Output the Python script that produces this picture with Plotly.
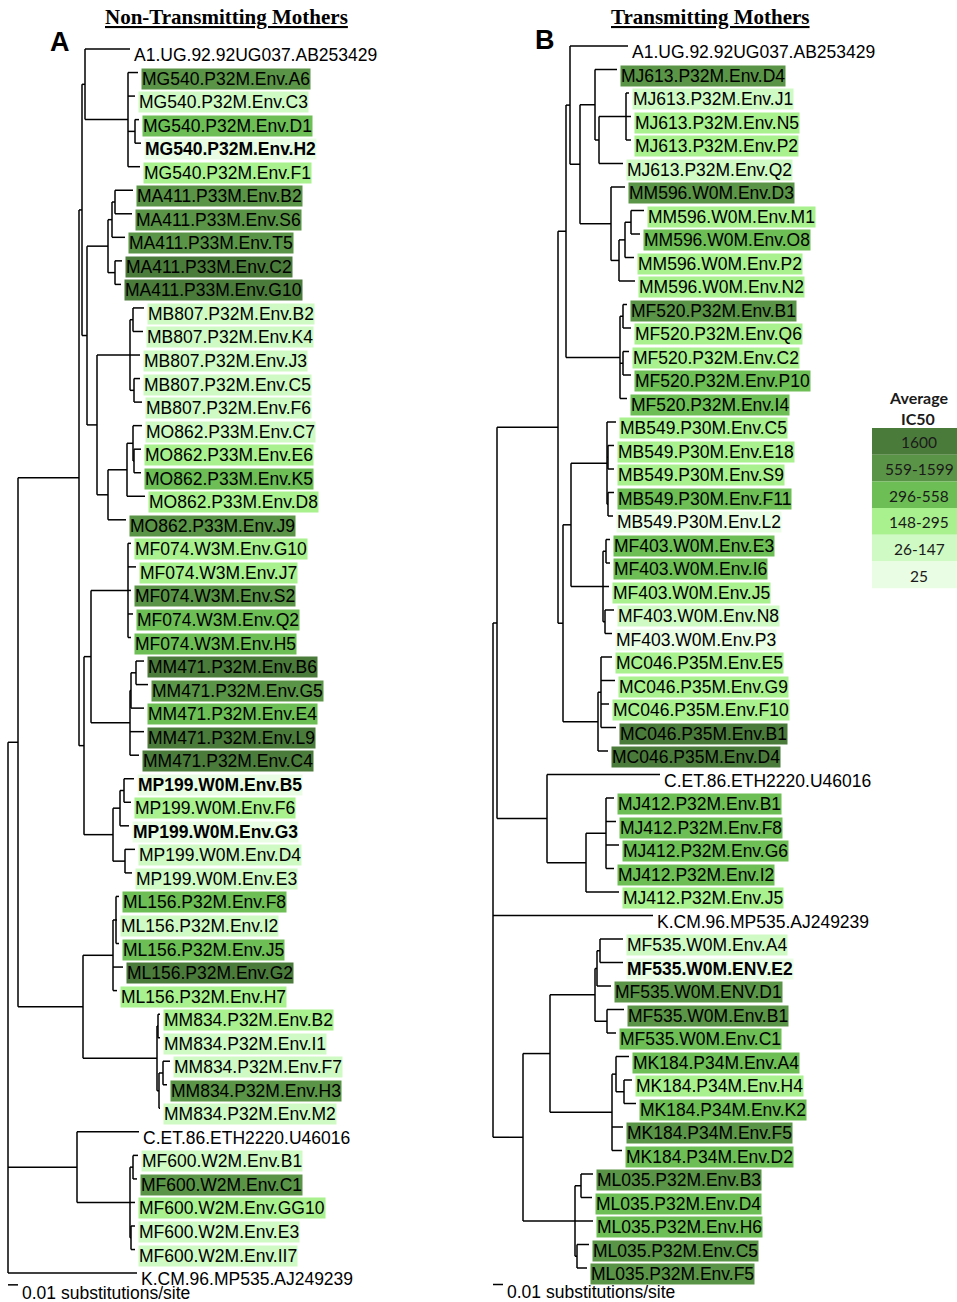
import plotly.graph_objects as go

# ---------------- data ----------------
TITLE_A = "Non-Transmitting Mothers"
TITLE_B = "Transmitting Mothers"
PANEL_A = "A"
PANEL_B = "B"
SCALE_LEN = 0.01
SCALE_TEXT = "0.01 substitutions/site"

IC50_BINS = ["1600", "559-1599", "296-558", "148-295", "26-147", "25"]
# colour for category 6 (1600) ... 1 (25); 0 = reference, no box
IC50_COLORS = {6: "#4b7b3a", 5: "#5a9446", 4: "#6cbe55", 3: "#a8f18e", 2: "#cffac4", 1: "#e9fde4"}
BIN_CATS = [6, 5, 4, 3, 2, 1]

newick_A = """
(((((A1.UG.92.92UG037.AB253429:0.045,
(MG540.P32M.Env.A6:0.010,MG540.P32M.Env.C3:0.007,(MG540.P32M.Env.D1:0.004,MG540.P32M.Env.H2:0.006):0.007,MG540.P32M.Env.F1:0.012):0.043
):0.003,
((((MA411.P33M.Env.B2:0.018,MA411.P33M.Env.S6:0.017):0.003,MA411.P33M.Env.T5:0.013):0.004,(MA411.P33M.Env.C2:0.007,MA411.P33M.Env.G10:0.006):0.007):0.021,
(((MB807.P32M.Env.B2:0.011,MB807.P32M.Env.K4:0.010):0.003,MB807.P32M.Env.J3:0.010,(MB807.P32M.Env.C5:0.006,MB807.P32M.Env.F6:0.008):0.004):0.033,
(((MO862.P33M.Env.C7:0.009,(MO862.P33M.Env.E6:0.007,MO862.P33M.Env.K5:0.007):0.001):0.006,MO862.P33M.Env.D8:0.018):0.019,MO862.P33M.Env.J9:0.018):0.011
):0.010
):0.005
):0.003,
(((MF074.W3M.Env.G10:0.003,MF074.W3M.Env.J7:0.008,MF074.W3M.Env.S2:0.003,MF074.W3M.Env.Q2:0.005,MF074.W3M.Env.H5:0.003):0.037,
(((MM471.P32M.Env.B6:0.008,MM471.P32M.Env.G5:0.012):0.005,MM471.P32M.Env.E4:0.013):0.001,MM471.P32M.Env.L9:0.014,MM471.P32M.Env.C4:0.009):0.039
):0.007,
(((MP199.W0M.Env.B5:0.010,MP199.W0M.Env.F6:0.007):0.004,MP199.W0M.Env.G3:0.009):0.007,(MP199.W0M.Env.D4:0.010,MP199.W0M.Env.E3:0.007):0.012):0.029
):0.005
):0.061,
(((ML156.P32M.Env.F8:0.003,ML156.P32M.Env.I2:0.001,ML156.P32M.Env.J5:0.003):0.003,ML156.P32M.Env.G2:0.010,ML156.P32M.Env.H7:0.004):0.030,
((MM834.P32M.Env.B2:0.002,MM834.P32M.Env.I1:0.002):0.001,((MM834.P32M.Env.F7:0.007,MM834.P32M.Env.H3:0.004):0.004,MM834.P32M.Env.M2:0.001):0.002):0.074
):0.065
):0.010,
(C.ET.86.ETH2220.U46016:0.062,((MF600.W2M.Env.B1:0.005,MF600.W2M.Env.C1:0.004):0.003,MF600.W2M.Env.GG10:0.005,(MF600.W2M.Env.E3:0.004,MF600.W2M.Env.II7:0.004):0.001):0.053):0.069,
K.CM.96.MP535.AJ249239:0.129);
"""

newick_B = """
(((((A1.UG.92.92UG037.AB253429:0.058,
((MJ613.P32M.Env.D4:0.022,((MJ613.P32M.Env.J1:0.003,MJ613.P32M.Env.N5:0.005,MJ613.P32M.Env.P2:0.005):0.027,MJ613.P32M.Env.Q2:0.024):0.004):0.015,
(MM596.W0M.Env.D3:0.014,(((MM596.W0M.Env.M1:0.013,MM596.W0M.Env.O8:0.009):0.006,MM596.W0M.Env.P2:0.009):0.006,MM596.W0M.Env.N2:0.016):0.008):0.031
):0.010
):0.004,
((MF520.P32M.Env.B1:0.004,MF520.P32M.Env.Q6:0.008):0.003,(MF520.P32M.Env.C2:0.006,MF520.P32M.Env.P10:0.008):0.003,MF520.P32M.Env.I4:0.007):0.054
):0.008,
(((MB549.P30M.Env.C5:0.009,(MB549.P30M.Env.E18:0.006,MB549.P30M.Env.S9:0.006):0.001,(MB549.P30M.Env.F11:0.006,MB549.P30M.Env.L2:0.005):0.001):0.036,
((MF403.W0M.Env.E3:0.004,MF403.W0M.Env.I6:0.004):0.003,MF403.W0M.Env.J5:0.006,(MF403.W0M.Env.N8:0.009,MF403.W0M.Env.P3:0.007):0.002):0.032
):0.008,
((MC046.P35M.Env.E5:0.011,MC046.P35M.Env.G9:0.014,MC046.P35M.Env.F10:0.008,MC046.P35M.Env.B1:0.015):0.003,MC046.P35M.Env.D4:0.010):0.035
):0.005
):0.061,
(C.ET.86.ETH2220.U46016:0.113,((MJ412.P32M.Env.B1:0.008,MJ412.P32M.Env.F8:0.010,MJ412.P32M.Env.G6:0.013,MJ412.P32M.Env.I2:0.008):0.020,MJ412.P32M.Env.J5:0.033):0.039):0.050
):0.004,
K.CM.96.MP535.AJ249239:0.160,
(((((MF535.W0M.Env.A4:0.023,MF535.W0M.ENV.E2:0.023):0.003,MF535.W0M.ENV.D1:0.014):0.002,(MF535.W0M.Env.B1:0.017,MF535.W0M.Env.C1:0.009):0.012):0.045,
((MK184.P34M.Env.A4:0.013,(MK184.P34M.Env.H4:0.008,MK184.P34M.Env.K2:0.012):0.008):0.004,MK184.P34M.Env.F5:0.011,MK184.P34M.Env.D2:0.010):0.062
):0.027,
((ML035.P32M.Env.B3:0.012,ML035.P32M.Env.D4:0.011):0.006,ML035.P32M.Env.H6:0.018,(ML035.P32M.Env.C5:0.012,ML035.P32M.Env.F5:0.010):0.002):0.052
):0.030);
"""

# IC50 category of each leaf, top to bottom (0 = reference strain)
ic50_A = [0,
          5, 2, 4, 1, 3,
          5, 5, 5, 6, 6,
          2, 2, 2, 2, 2,
          2, 3, 4, 3, 5,
          3, 3, 5, 4, 4,
          6, 5, 4, 6, 6,
          1, 3, 1, 2, 2,
          4, 2, 4, 6, 3,
          3, 2, 2, 5, 2,
          0,
          2, 5, 3, 2, 2,
          0]
ic50_B = [0,
          5, 2, 3, 3, 2,
          5, 3, 4, 3, 3,
          5, 3, 3, 4, 4,
          3, 3, 3, 4, 1,
          4, 4, 3, 2, 1,
          3, 3, 3, 6, 6,
          0,
          4, 4, 4, 4, 3,
          0,
          2, 1, 5, 5, 4,
          4, 3, 4, 5, 4,
          5, 4, 4, 5, 5]
bold_A = ["MG540.P32M.Env.H2", "MP199.W0M.Env.B5", "MP199.W0M.Env.G3"]
bold_B = ["MF535.W0M.ENV.E2"]


# ---------------- tree helpers ----------------
def parse_newick(text):
    s = "".join(text.split()).rstrip(";")
    pos = 0

    def node():
        nonlocal pos
        children = []
        if s[pos] == "(":
            pos += 1
            while True:
                children.append(node())
                if s[pos] == ",":
                    pos += 1
                    continue
                if s[pos] == ")":
                    pos += 1
                    break
        start = pos
        while pos < len(s) and s[pos] not in ":,)":
            pos += 1
        name = s[start:pos]
        length = 0.0
        if pos < len(s) and s[pos] == ":":
            pos += 1
            start = pos
            while pos < len(s) and s[pos] not in ",)":
                pos += 1
            length = float(s[start:pos])
        return {"name": name, "len": length, "children": children}

    return node()


def tree_layout(root):
    leaves = []
    xs, ys = [], []

    def walk(n, parent_x):
        x = parent_x + n["len"]
        if not n["children"]:
            y = len(leaves)
            leaves.append((n["name"], x, y))
            return x, y
        pts = [walk(c, x) for c in n["children"]]
        cy = [p[1] for p in pts]
        xs.extend([x, x, None])
        ys.extend([cy[0], cy[-1], None])
        for px, py in pts:
            xs.extend([x, px, None])
            ys.extend([py, py, None])
        return x, (cy[0] + cy[-1]) / 2.0

    walk(root, 0.0)
    return leaves, xs, ys


tree_A = parse_newick(newick_A)
tree_B = parse_newick(newick_B)
leaves_A, xs_A, ys_A = tree_layout(tree_A)
leaves_B, xs_B, ys_B = tree_layout(tree_B)
assert len(leaves_A) == len(ic50_A) and len(leaves_B) == len(ic50_B)

# ---------------- figure ----------------
W, H = 957, 1302
PX_PER_UNIT = 1000.0
fig = go.Figure()

LINE = dict(color="black", width=1.5)
fig.add_trace(go.Scatter(x=xs_A, y=ys_A, mode="lines", line=LINE, xaxis="x", yaxis="y",
                         hoverinfo="skip", showlegend=False))
fig.add_trace(go.Scatter(x=xs_B, y=ys_B, mode="lines", line=LINE, xaxis="x2", yaxis="y2",
                         hoverinfo="skip", showlegend=False))

# scale bars (placed just below the last leaf of each tree)
nA, nB = len(leaves_A), len(leaves_B)
barA_y = nA - 1 + 0.5
barB_y = nB - 1 + 0.7
fig.add_trace(go.Scatter(x=[0, SCALE_LEN], y=[barA_y, barA_y], mode="lines", line=LINE,
                         xaxis="x", yaxis="y", hoverinfo="skip", showlegend=False))
fig.add_trace(go.Scatter(x=[0, SCALE_LEN], y=[barB_y, barB_y], mode="lines", line=LINE,
                         xaxis="x2", yaxis="y2", hoverinfo="skip", showlegend=False))

LEAF_FONT = dict(family="Liberation Sans, Arial, sans-serif", size=17.5, color="black")
annotations = []


def add_leaves(leaves, cats, bolds, xref, yref):
    for (name, x, y), c in zip(leaves, cats):
        txt = f"<b>{name}</b>" if name in bolds else name
        a = dict(x=x, y=y, xref=xref, yref=yref, text=txt, showarrow=False,
                 xanchor="left", yanchor="middle", xshift=3, yshift=-6,
                 font=LEAF_FONT, borderpad=0)
        if c:
            a["bgcolor"] = IC50_COLORS[c]
        annotations.append(a)


add_leaves(leaves_A, ic50_A, bold_A, "x", "y")
add_leaves(leaves_B, ic50_B, bold_B, "x2", "y2")

for xref, yref, by in (("x", "y", barA_y), ("x2", "y2", barB_y)):
    annotations.append(dict(x=SCALE_LEN, y=by, xref=xref, yref=yref, text=SCALE_TEXT,
                            showarrow=False, xanchor="left", yanchor="middle",
                            xshift=2, yshift=-8, font=LEAF_FONT))

TITLE_FONT = dict(family="Liberation Serif, Times New Roman, serif", size=21, color="black",
                  weight="bold", lineposition="under")
annotations.append(dict(x=226 / W, y=1 - 17 / H, xref="paper", yref="paper", text=TITLE_A,
                        showarrow=False, xanchor="center", yanchor="middle", font=TITLE_FONT))
annotations.append(dict(x=710 / W, y=1 - 17 / H, xref="paper", yref="paper", text=TITLE_B,
                        showarrow=False, xanchor="center", yanchor="middle", font=TITLE_FONT))
PANEL_FONT = dict(family="Liberation Sans, Arial, sans-serif", size=27, color="black", weight="bold")
annotations.append(dict(x=60 / W, y=1 - 42 / H, xref="paper", yref="paper", text=PANEL_A,
                        showarrow=False, xanchor="center", yanchor="middle", font=PANEL_FONT))
annotations.append(dict(x=545 / W, y=1 - 40 / H, xref="paper", yref="paper", text=PANEL_B,
                        showarrow=False, xanchor="center", yanchor="middle", font=PANEL_FONT))

# IC50 legend table
LEG_FONT = dict(family="Lato, Open Sans, sans-serif", size=15.5, color="#1a1a1a")
LEG_TITLE_FONT = dict(family="Lato, Open Sans, sans-serif", size=16, color="#1a1a1a")
annotations.append(dict(x=918 / W, y=1 - 408 / H, xref="paper", yref="paper", text="<b>Average</b>",
                        showarrow=False, xanchor="center", yanchor="bottom", font=LEG_TITLE_FONT,
                        borderpad=0))
annotations.append(dict(x=918 / W, y=1 - 408 / H, xref="paper", yref="paper", text="<b>IC50</b>",
                        showarrow=False, xanchor="center", yanchor="top", font=LEG_TITLE_FONT,
                        borderpad=0))
shapes = []
row_top, row_h = 428.0, 26.7
for i, (lab, cat) in enumerate(zip(IC50_BINS, BIN_CATS)):
    y0 = row_top + i * row_h
    shapes.append(dict(type="rect", xref="paper", yref="paper", x0=872 / W, x1=1.0,
                       y0=1 - (y0 + row_h) / H, y1=1 - y0 / H, fillcolor=IC50_COLORS[cat],
                       line=dict(width=0), layer="below"))
    annotations.append(dict(x=919 / W, y=1 - (y0 + row_h / 2 + 1) / H, xref="paper", yref="paper",
                            text=lab, showarrow=False, xanchor="center", yanchor="middle",
                            font=LEG_FONT))

# axes: pixel-true placement of the two trees
half = W / 2.0
rootA_px, rootB_px = 8.0, 493.0
topA, stepA = 49.0, 23.54
topB, stepB = 46.0, 23.5
ax = dict(visible=False, showgrid=False, zeroline=False, fixedrange=True)
fig.update_layout(
    width=W, height=H, margin=dict(l=0, r=0, t=0, b=0),
    paper_bgcolor="white", plot_bgcolor="rgba(0,0,0,0)",
    xaxis=dict(domain=[0, 0.5], range=[-rootA_px / PX_PER_UNIT, (half - rootA_px) / PX_PER_UNIT], **ax),
    yaxis=dict(domain=[0, 1], range=[(H - topA) / stepA, -topA / stepA], **ax),
    xaxis2=dict(domain=[0.5, 1], anchor="y2",
                range=[-(rootB_px - half) / PX_PER_UNIT, (W - rootB_px) / PX_PER_UNIT], **ax),
    yaxis2=dict(domain=[0, 1], anchor="x2", range=[(H - topB) / stepB, -topB / stepB], **ax),
    annotations=annotations, shapes=shapes, hovermode=False, showlegend=False,
)

fig.write_html("out.html", config={"displayModeBar": False},
               post_script="document.body.style.margin='0px';document.body.style.overflow='hidden';")
